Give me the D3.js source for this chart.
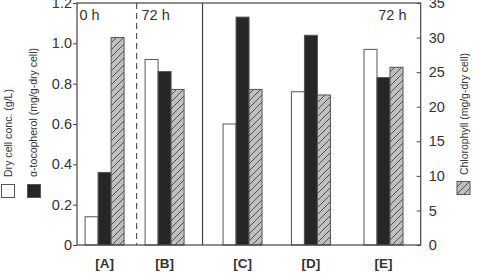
<!DOCTYPE html>
<html><head><meta charset="utf-8">
<script src="https://cdn.jsdelivr.net/npm/d3@7"></script>
<style>body{margin:0;background:#fff}svg{display:block;font-family:"Liberation Sans",Arial,sans-serif}</style>
</head><body><svg id="c" width="478" height="274"></svg>
<script>
// ---- data ----
const categories = ["[A]", "[B]", "[C]", "[D]", "[E]"];
const dryCell = [0.14, 0.92, 0.60, 0.76, 0.97];        // g/L (left axis)
const tocopherol = [0.36, 0.86, 1.13, 1.04, 0.83];     // mg/g-dry cell (left axis)
const chlorophyll = [30.0, 22.5, 22.5, 21.7, 25.7];    // mg/g-dry cell (right axis)
const leftTicks = [0, 0.2, 0.4, 0.6, 0.8, 1.0, 1.2];
const leftTickLabels = ["0", "0.2", "0.4", "0.6", "0.8", "1.0", "1.2"];
const rightTicks = [0, 5, 10, 15, 20, 25, 30, 35];
const timeLabels = ["0 h", "72 h", "72 h"];
const legendLabels = ["Dry cell conc. (g/L)", "\u03b1-tocopherol (mg/g-dry cell)", "Chlorophyll (mg/g-dry cell)"];

// ---- layout ----
const groupSlot = [1, 2, 3.3, 4.44, 5.65];
const L = 77, R = 420.7, T = 3, B = 245;
const svg = d3.select("#c");
const x = d3.scaleLinear().domain([0.54, 6.27]).range([L, R]);
const yL = d3.scaleLinear().domain([0, 1.2]).range([B, T]);
const yR = d3.scaleLinear().domain([0, 35]).range([B, T]);
const bw = 13;

const defs = svg.append("defs");
const pat = defs.append("pattern").attr("id", "hatch").attr("patternUnits", "userSpaceOnUse")
  .attr("width", 7).attr("height", 7);
pat.append("rect").attr("width", 7).attr("height", 7).attr("fill", "#bfbfbf");
pat.append("path").attr("d", "M-1,1 l2,-2 M0,7 l7,-7 M6,8 l2,-2")
  .attr("stroke", "#333").attr("stroke-width", 0.8);

const ink = "#333";

// bars
const series = [
  {vals: dryCell, sc: yL, fill: "#fff", off: -1.5},
  {vals: tocopherol, sc: yL, fill: "#262626", off: -0.5},
  {vals: chlorophyll, sc: yR, fill: "url(#hatch)", off: 0.5}
];
series.forEach(s => {
  svg.append("g").selectAll("rect").data(s.vals).join("rect")
    .attr("x", (d, i) => x(groupSlot[i]) + s.off * bw)
    .attr("y", d => s.sc(d))
    .attr("width", bw)
    .attr("height", d => B - s.sc(d))
    .attr("fill", s.fill)
    .attr("stroke", "#555").attr("stroke-width", 1);
});

// separators
svg.append("line").attr("x1", x(1.533)).attr("x2", x(1.533)).attr("y1", T).attr("y2", B)
  .attr("stroke", "#555").attr("stroke-width", 1.2).attr("stroke-dasharray", "6,4");
svg.append("line").attr("x1", x(2.633)).attr("x2", x(2.633)).attr("y1", T).attr("y2", B)
  .attr("stroke", "#444").attr("stroke-width", 1.2);

// frame
svg.append("rect").attr("x", L).attr("y", T).attr("width", R - L).attr("height", B - T)
  .attr("fill", "none").attr("stroke", "#444").attr("stroke-width", 1.2);

// axes
const ax1 = svg.append("g").attr("transform", `translate(${L},0)`)
  .call(d3.axisLeft(yL).tickValues(leftTicks).tickFormat((d, i) => leftTickLabels[i]).tickSize(4).tickPadding(1));
const ax2 = svg.append("g").attr("transform", `translate(${R},0)`)
  .call(d3.axisRight(yR).tickValues(rightTicks).tickSize(-4).tickPadding(8));
[ax1, ax2].forEach(a => {
  a.select(".domain").remove();
  a.selectAll("line").attr("stroke", "#444");
  a.selectAll("text").attr("font-size", 14.5).attr("fill", ink).attr("font-family", "'Liberation Sans',Arial,sans-serif");
});

// category labels
svg.append("g").selectAll("text").data(categories).join("text")
  .attr("x", (d, i) => x(groupSlot[i])).attr("y", 268)
  .attr("text-anchor", "middle").attr("font-size", 13.5).attr("font-weight", "bold").attr("fill", ink)
  .text(d => d);

// time labels
const tpos = [[79.5, "start"], [141.5, "start"], [406.5, "end"]];
svg.append("g").selectAll("text").data(timeLabels).join("text")
  .attr("x", (d, i) => tpos[i][0]).attr("y", 20).attr("text-anchor", (d, i) => tpos[i][1])
  .attr("font-size", 14.5).attr("fill", ink).text(d => d);

// legend labels (rotated)
const lg = [[12, 177, 88], [37, 177, 129], [468, 175, 122]];
legendLabels.forEach((t, i) => {
  svg.append("text").attr("transform", `translate(${lg[i][0]},${lg[i][1]}) rotate(-90)`)
    .attr("font-size", 11).attr("fill", ink)
    .attr("textLength", lg[i][2]).attr("lengthAdjust", "spacingAndGlyphs").text(t);
});
// legend swatches
const sw = [[1, 184, "#fff"], [27, 184, "#262626"], [456.5, 181, "url(#hatch)"]];
sw.forEach(s => {
  svg.append("rect").attr("x", s[0] + 0.5).attr("y", s[1] + 0.5).attr("width", 13).attr("height", 13)
    .attr("fill", s[2]).attr("stroke", "#555").attr("stroke-width", 1);
});
</script></body></html>
